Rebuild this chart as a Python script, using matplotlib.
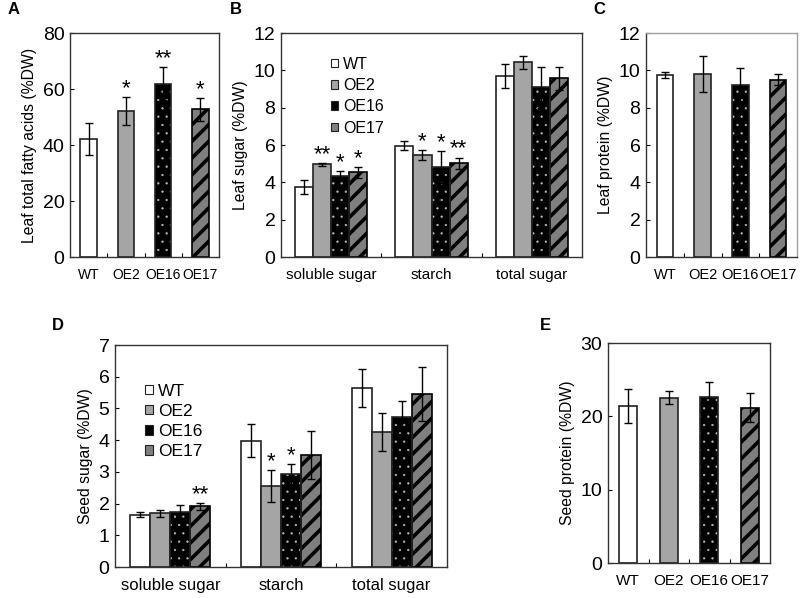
import matplotlib
matplotlib.use("Agg")
import matplotlib.pyplot as plt
import numpy as np

plt.rcParams['font.family'] = ['Liberation Sans', 'DejaVu Sans']
plt.rcParams['hatch.linewidth'] = 2.6

lines = ['WT', 'OE2', 'OE16', 'OE17']
sugar_groups = ['soluble sugar', 'starch', 'total sugar']

# A: leaf total fatty acids
fa_mean = [42.2, 52.1, 61.9, 52.7]
fa_err = [5.8, 5.0, 6.0, 4.2]
fa_stars = ['', '*', '**', '*']

# B: leaf sugar, rows = lines, cols = groups
leaf_sugar = [[3.77, 5.96, 9.71],
              [4.97, 5.46, 10.43],
              [4.36, 4.81, 9.10],
              [4.54, 5.03, 9.57]]
leaf_sugar_err = [[0.38, 0.25, 0.63],
                  [0.07, 0.28, 0.36],
                  [0.25, 0.85, 1.10],
                  [0.30, 0.30, 0.60]]
leaf_sugar_stars = [['', '', ''],
                    ['**', '*', ''],
                    ['*', '*', ''],
                    ['*', '**', '']]

# C: leaf protein
lp_mean = [9.76, 9.82, 9.22, 9.49]
lp_err = [0.15, 0.97, 0.90, 0.30]

# D: seed sugar
seed_sugar = [[1.65, 3.98, 5.63],
              [1.69, 2.56, 4.27],
              [1.75, 2.94, 4.72],
              [1.91, 3.54, 5.45]]
seed_sugar_err = [[0.08, 0.52, 0.60],
                  [0.10, 0.50, 0.60],
                  [0.22, 0.31, 0.52],
                  [0.10, 0.75, 0.85]]
seed_sugar_stars = [['', '', ''],
                    ['', '*', ''],
                    ['', '*', ''],
                    ['**', '', '']]

# E: seed protein
sp_mean = [21.4, 22.56, 22.65, 21.2]
sp_err = [2.3, 0.9, 2.0, 2.0]

W, H = 800, 598
fig = plt.figure(figsize=(8, 5.98), dpi=100)

edge = '#222222'


def make_ax(l, r, t, b):
    return fig.add_axes([l / W, (H - b) / H, (r - l) / W, (b - t) / H])


def draw_bar(ax, x, h, w, i):
    # i = line index, decides fill style
    if i == 0:
        ax.bar(x, h, w, color='white', edgecolor=edge, linewidth=1.2, zorder=2)
    elif i == 1:
        ax.bar(x, h, w, color='#a5a5a5', edgecolor=edge, linewidth=1.2, zorder=2)
    elif i == 2:
        with plt.rc_context({'hatch.linewidth': 0.4}):
            ax.bar(x, h, w, color='black', edgecolor='#bbbbbb', hatch='..', linewidth=0, zorder=2)
        ax.bar(x, h, w, color='none', edgecolor=edge, linewidth=1.2, zorder=3)
    else:
        ax.bar(x, h, w, color='#7f7f7f', edgecolor='black', hatch='//', linewidth=1.2, zorder=2)


def legend_handles():
    hs = []
    styles = [dict(facecolor='white', edgecolor=edge),
              dict(facecolor='#a5a5a5', edgecolor=edge),
              dict(facecolor='black', edgecolor=edge),
              dict(facecolor='#7f7f7f', edgecolor=edge)]
    for s, lab in zip(styles, lines):
        hs.append(plt.Rectangle((0, 0), 1, 1, linewidth=0.8, label=lab, **s))
    return hs


def style_ax(ax, ymax, step, ylabel):
    ax.set_ylim(0, ymax)
    ax.set_yticks(np.arange(0, ymax + 0.01, step))
    ax.set_ylabel(ylabel, fontsize=11.3, labelpad=4)
    ax.tick_params(axis='y', direction='in', length=3, labelsize=14, pad=4)
    ax.tick_params(axis='x', direction='in', length=3, labelsize=11, pad=6)
    for s in ax.spines.values():
        s.set_color('#333333')
        s.set_linewidth(1.0)


def add_star(ax, x, top, s, size=16):
    if s:
        ax.annotate(s, (x, top), xytext=(0, 6), textcoords='offset points',
                    ha='center', va='center', fontsize=size)


def single_panel(ax, means, errs, stars, ymax, step, ylabel, xfs, w=0.44):
    x = np.arange(len(lines))
    for i in range(len(lines)):
        draw_bar(ax, x[i], means[i], w, i)
        ax.errorbar(x[i], means[i], yerr=errs[i], fmt='none', ecolor='black',
                    elinewidth=1, capsize=3, capthick=1, zorder=4)
        if stars:
            add_star(ax, x[i], means[i] + errs[i], stars[i])
    ax.set_xlim(-0.5, len(lines) - 0.5)
    ax.set_xticks(np.arange(len(lines) - 1) + 0.5)
    ax.set_xticklabels([])
    for i, lab in enumerate(lines):
        ax.annotate(lab, (x[i], 0), xytext=(0, -8), textcoords='offset points',
                    ha='center', va='top', fontsize=xfs, annotation_clip=False)
    style_ax(ax, ymax, step, ylabel)


def group_panel(ax, vals, errs, stars, ymax, step, ylabel, xfs):
    ng = len(sugar_groups)
    x = np.arange(ng)
    bw = 0.18
    for i in range(len(lines)):
        for g in range(ng):
            xi = x[g] + (i - 1.5) * bw
            draw_bar(ax, xi, vals[i][g], bw, i)
            ax.errorbar(xi, vals[i][g], yerr=errs[i][g], fmt='none', ecolor='black',
                        elinewidth=1, capsize=3, capthick=1, zorder=4)
            add_star(ax, xi, vals[i][g] + errs[i][g], stars[i][g])
    ax.set_xlim(-0.5, ng - 0.5)
    ax.set_xticks(np.arange(ng - 1) + 0.5)
    ax.set_xticklabels([])
    for g, lab in enumerate(sugar_groups):
        ax.annotate(lab, (x[g], 0), xytext=(0, -8), textcoords='offset points',
                    ha='center', va='top', fontsize=xfs, annotation_clip=False)
    style_ax(ax, ymax, step, ylabel)


axA = make_ax(70, 219, 33, 257)
single_panel(axA, fa_mean, fa_err, fa_stars, 80, 20, 'Leaf total fatty acids (%DW)', 10)

axB = make_ax(281, 582, 33, 257)
group_panel(axB, leaf_sugar, leaf_sugar_err, leaf_sugar_stars, 12, 2, 'Leaf sugar (%DW)', 11)
axB.legend(handles=legend_handles(), loc='upper left', bbox_to_anchor=(0.14, 0.93),
           frameon=False, fontsize=11.5, handlelength=0.45, handleheight=0.45,
           handletextpad=0.3, labelspacing=0.4, borderpad=0)

axC = make_ax(646, 797, 33, 257)
single_panel(axC, lp_mean, lp_err, None, 12, 2, 'Leaf protein (%DW)', 10.5)
axC.spines['top'].set_color('#a0a0a0')
axC.spines['right'].set_color('#a0a0a0')

axD = make_ax(115, 447, 345, 567)
group_panel(axD, seed_sugar, seed_sugar_err, seed_sugar_stars, 7, 1, 'Seed sugar (%DW)', 12)
axD.legend(handles=legend_handles(), loc='upper left', bbox_to_anchor=(0.065, 0.865),
           frameon=False, fontsize=12.5, handlelength=0.45, handleheight=0.45,
           handletextpad=0.3, labelspacing=0.3, borderpad=0)

axE = make_ax(608, 770, 343, 563)
single_panel(axE, sp_mean, sp_err, None, 30, 10, 'Seed protein (%DW)', 11)

for lab, px, py in [('A', 8, 10), ('B', 230, 10), ('C', 593, 10), ('D', 52, 325), ('E', 540, 325)]:
    fig.text(px / W, 1 - py / H, lab, fontsize=12, fontweight='bold', va='center', ha='left')

fig.savefig('out.png', dpi=100)
